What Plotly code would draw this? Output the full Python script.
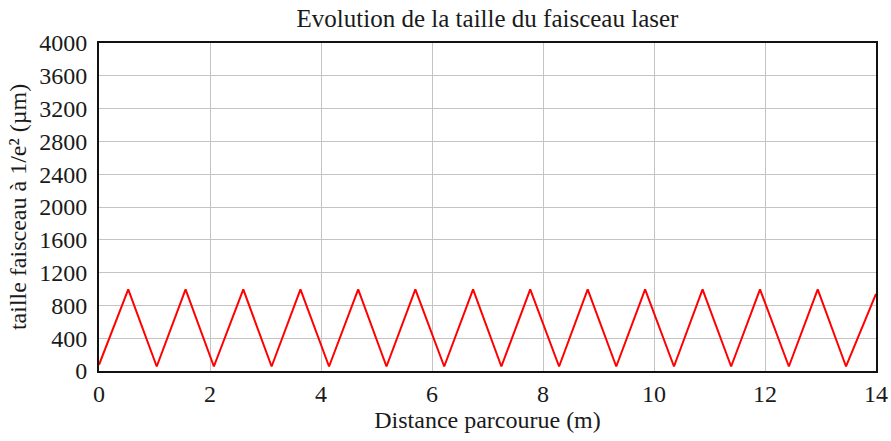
import plotly.graph_objects as go

# Data: vertices of the beam-size trace
x_vertices = [0.0, 0.527, 1.04, 1.56, 2.07, 2.60, 3.11, 3.63, 4.145, 4.67, 5.18, 5.70,
              6.22, 6.74, 7.25, 7.77, 8.29, 8.805, 9.32, 9.84, 10.36, 10.875, 11.39,
              11.91, 12.43, 12.95, 13.46, 14.0]
y_vertices = [75, 995, 55, 995, 55, 995, 55, 995, 55, 995, 55, 995,
              55, 995, 55, 995, 55, 995, 55, 995, 55, 995, 55,
              995, 55, 995, 55, 940]

x_ticks = [0, 2, 4, 6, 8, 10, 12, 14]
y_ticks = [0, 400, 800, 1200, 1600, 2000, 2400, 2800, 3200, 3600, 4000]

title_text = "Evolution de la taille du faisceau laser"
x_title = "Distance parcourue (m)"
y_title = "taille faisceau à 1/e² (µm)"

font = "Liberation Serif, Times New Roman, serif"

fig = go.Figure()
fig.add_trace(go.Scatter(x=x_vertices, y=y_vertices, mode="lines",
                         line=dict(color="#ff0000", width=2), showlegend=False))

fig.update_layout(
    width=891, height=441,
    margin=dict(l=99, r=15, t=43, b=70),
    paper_bgcolor="white", plot_bgcolor="white",
    font=dict(family=font, size=24, color="#1a1a1a"),
    title=dict(text=title_text, x=0.5, xanchor="center", xref="paper",
               y=0.978, yanchor="top", yref="container", automargin=False,
               font=dict(family=font, size=25, color="#1a1a1a")),
)
fig.update_xaxes(range=[0, 14], tickvals=x_ticks, ticktext=[str(v) for v in x_ticks],
                 showgrid=True, gridcolor="#c4c4c4", gridwidth=1,
                 showline=True, linecolor="#111111", linewidth=2, mirror=True,
                 ticks="", zeroline=False, automargin=False,
                 tickfont=dict(family=font, size=24),
                 title=dict(text=x_title, standoff=4, font=dict(family=font, size=24)))
fig.update_yaxes(range=[0, 4000], tickvals=y_ticks, ticktext=[str(v) for v in y_ticks],
                 showgrid=True, gridcolor="#c4c4c4", gridwidth=1,
                 showline=True, linecolor="#111111", linewidth=2, mirror=True,
                 ticks="", zeroline=False, automargin=False, ticklabelstandoff=5,
                 tickfont=dict(family=font, size=24),
                 title=dict(text=y_title, standoff=6, font=dict(family=font, size=24)))

fig.write_html("out.html", config={"displayModeBar": False},
               post_script="document.body.style.margin='0';document.body.style.overflow='hidden';")
